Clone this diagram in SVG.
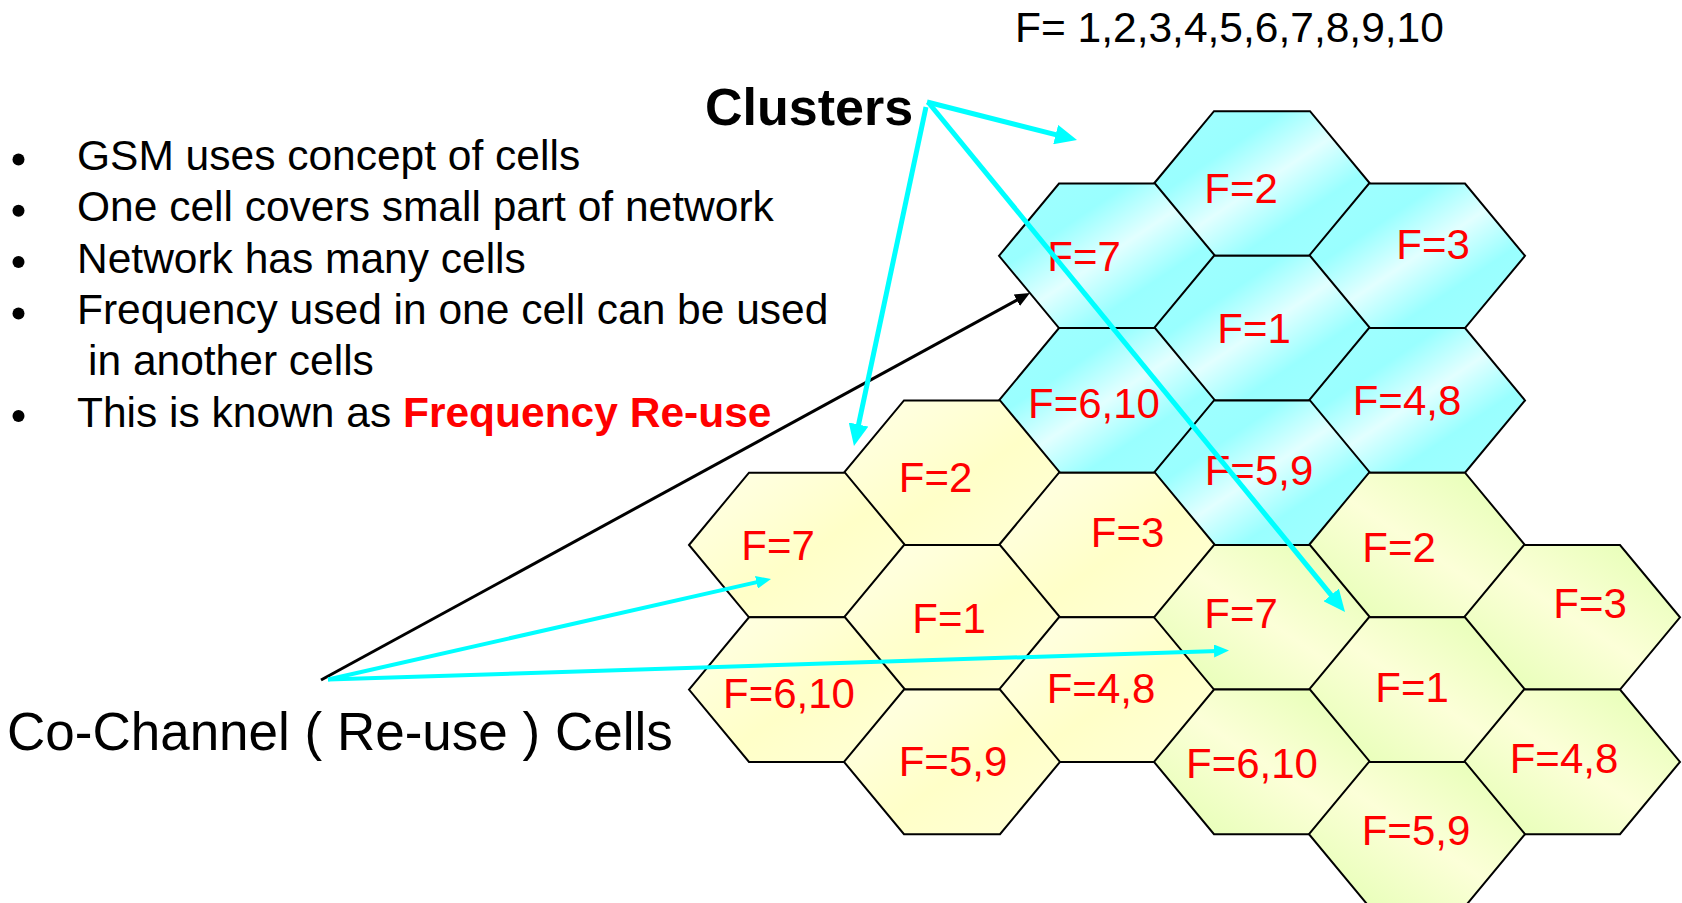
<svg xmlns="http://www.w3.org/2000/svg" width="1682" height="903" viewBox="0 0 1682 903">
<defs>
<linearGradient id="gBlue" x1="0" y1="0" x2="1" y2="1">
<stop offset="0" stop-color="#a3ffff"/>
<stop offset="0.3" stop-color="#99ffff"/>
<stop offset="0.5" stop-color="#e2ffff"/>
<stop offset="0.7" stop-color="#99ffff"/>
<stop offset="1" stop-color="#a3ffff"/>
</linearGradient>
<linearGradient id="gYellow" x1="0" y1="0" x2="1" y2="1">
<stop offset="0" stop-color="#ffffe8"/>
<stop offset="0.55" stop-color="#ffffc8"/>
<stop offset="1" stop-color="#ffffd6"/>
</linearGradient>
<linearGradient id="gGreen" x1="1" y1="0" x2="0" y2="1">
<stop offset="0" stop-color="#e2ffb0"/>
<stop offset="0.5" stop-color="#fcffd8"/>
<stop offset="1" stop-color="#e2ffb0"/>
</linearGradient>
<marker id="mCyanBig" markerUnits="userSpaceOnUse" markerWidth="22" markerHeight="20" refX="6" refY="10" orient="auto" viewBox="0 0 22 20">
<path d="M0,0 L22,10 L0,20 z" fill="#00ffff"/>
</marker>
<marker id="mCyan" markerUnits="userSpaceOnUse" markerWidth="15" markerHeight="13" refX="4" refY="6.5" orient="auto" viewBox="0 0 15 13">
<path d="M0,0 L15,6.5 L0,13 z" fill="#00ffff"/>
</marker>
<marker id="mBlack" markerUnits="userSpaceOnUse" markerWidth="15" markerHeight="13" refX="4" refY="6.5" orient="auto" viewBox="0 0 15 13">
<path d="M0,0 L15,6.5 L0,13 z" fill="#000000"/>
</marker>
</defs>
<style>
.hex { stroke:#000; stroke-width:2; stroke-linejoin:miter; }
.blue { fill:url(#gBlue); }
.yellow { fill:url(#gYellow); }
.green { fill:url(#gGreen); }
.lbl { font-family:"Liberation Sans", Arial, sans-serif; font-size:42px; fill:#ff0000; text-anchor:middle; }
.body { font-family:"Liberation Sans", Arial, sans-serif; font-size:42.5px; fill:#000; }
.red { fill:#ff0000; font-weight:bold; }
.dot { fill:#000; }
.cbig { stroke:#00ffff; stroke-width:5; fill:none; marker-end:url(#mCyanBig); }
.csmall { stroke:#00ffff; stroke-width:4; fill:none; marker-end:url(#mCyan); }
.black { stroke:#000; stroke-width:3; fill:none; marker-end:url(#mBlack); }
</style>
<rect width="1682" height="903" fill="#ffffff"/>

<g id="title">
<text class="body" x="1015" y="41.5">F= 1,2,3,4,5,6,7,8,9,10</text>
</g>

<g id="bullets">
<circle class="dot" cx="18.5" cy="159.5" r="6"/>
<circle class="dot" cx="18.5" cy="210.8" r="6"/>
<circle class="dot" cx="18.5" cy="262.1" r="6"/>
<circle class="dot" cx="18.5" cy="313.4" r="6"/>
<circle class="dot" cx="18.5" cy="416" r="6"/>
<text class="body" x="77" y="170">GSM uses concept of cells</text>
<text class="body" x="77" y="221.3">One cell covers small part of network</text>
<text class="body" x="77" y="272.6">Network has many cells</text>
<text class="body" x="77" y="323.9">Frequency used in one cell can be used</text>
<text class="body" x="88" y="375.2">in another cells</text>
<text class="body" x="77" y="426.5">This is known as <tspan class="red">Frequency Re-use</tspan></text>
</g>

<g id="clusters-label">
<text x="705" y="125" style="font-family:'Liberation Sans', Arial, sans-serif; font-size:52px; font-weight:bold; fill:#000">Clusters</text>
</g>

<g id="cochannel-label">
<text x="7" y="750" style="font-family:'Liberation Sans', Arial, sans-serif; font-size:53px; fill:#000">Co-Channel ( Re-use ) Cells</text>
</g>

<!-- Blue cluster -->
<g id="blue-f2" transform="translate(1262,183.5)"><polygon class="hex blue" points="-108,0 -48,-72.3 48,-72.3 108,0 48,72.3 -48,72.3"/><text class="lbl" x="-21" y="19.5">F=2</text></g>
<g id="blue-f7" transform="translate(1107,255.8)"><polygon class="hex blue" points="-108,0 -48,-72.3 48,-72.3 108,0 48,72.3 -48,72.3"/><text class="lbl" x="-23" y="15.2">F=7</text></g>
<g id="blue-f3" transform="translate(1417,255.8)"><polygon class="hex blue" points="-108,0 -48,-72.3 48,-72.3 108,0 48,72.3 -48,72.3"/><text class="lbl" x="16" y="3.2">F=3</text></g>
<g id="blue-f1" transform="translate(1262,328.1)"><polygon class="hex blue" points="-108,0 -48,-72.3 48,-72.3 108,0 48,72.3 -48,72.3"/><text class="lbl" x="-8" y="15">F=1</text></g>
<g id="blue-f6-10" transform="translate(1107,400.4)"><polygon class="hex blue" points="-108,0 -48,-72.3 48,-72.3 108,0 48,72.3 -48,72.3"/><text class="lbl" x="-13" y="17.6">F=6,10</text></g>
<g id="blue-f4-8" transform="translate(1417,400.4)"><polygon class="hex blue" points="-108,0 -48,-72.3 48,-72.3 108,0 48,72.3 -48,72.3"/><text class="lbl" x="-10" y="14.6">F=4,8</text></g>
<g id="blue-f5-9" transform="translate(1262,472.7)"><polygon class="hex blue" points="-108,0 -48,-72.3 48,-72.3 108,0 48,72.3 -48,72.3"/><text class="lbl" x="-3" y="12.3">F=5,9</text></g>

<!-- Yellow cluster -->
<g id="yellow-f2" transform="translate(952,472.7)"><polygon class="hex yellow" points="-108,0 -48,-72.3 48,-72.3 108,0 48,72.3 -48,72.3"/><text class="lbl" x="-16.5" y="19.3">F=2</text></g>
<g id="yellow-f7" transform="translate(797,545)"><polygon class="hex yellow" points="-108,0 -48,-72.3 48,-72.3 108,0 48,72.3 -48,72.3"/><text class="lbl" x="-19" y="15">F=7</text></g>
<g id="yellow-f3" transform="translate(1107,545)"><polygon class="hex yellow" points="-108,0 -48,-72.3 48,-72.3 108,0 48,72.3 -48,72.3"/><text class="lbl" x="20.5" y="2">F=3</text></g>
<g id="yellow-f1" transform="translate(952,617.3)"><polygon class="hex yellow" points="-108,0 -48,-72.3 48,-72.3 108,0 48,72.3 -48,72.3"/><text class="lbl" x="-3" y="15.7">F=1</text></g>
<g id="yellow-f6-10" transform="translate(797,689.6)"><polygon class="hex yellow" points="-108,0 -48,-72.3 48,-72.3 108,0 48,72.3 -48,72.3"/><text class="lbl" x="-8" y="18.4">F=6,10</text></g>
<g id="yellow-f4-8" transform="translate(1107,689.6)"><polygon class="hex yellow" points="-108,0 -48,-72.3 48,-72.3 108,0 48,72.3 -48,72.3"/><text class="lbl" x="-6" y="13.4">F=4,8</text></g>
<g id="yellow-f5-9" transform="translate(952,761.9)"><polygon class="hex yellow" points="-108,0 -48,-72.3 48,-72.3 108,0 48,72.3 -48,72.3"/><text class="lbl" x="1" y="14">F=5,9</text></g>

<!-- Green cluster -->
<g id="green-f2" transform="translate(1417,545)"><polygon class="hex green" points="-108,0 -48,-72.3 48,-72.3 108,0 48,72.3 -48,72.3"/><text class="lbl" x="-18" y="17">F=2</text></g>
<g id="green-f7" transform="translate(1262,617.3)"><polygon class="hex green" points="-108,0 -48,-72.3 48,-72.3 108,0 48,72.3 -48,72.3"/><text class="lbl" x="-21" y="10.7">F=7</text></g>
<g id="green-f3" transform="translate(1572,617.3)"><polygon class="hex green" points="-108,0 -48,-72.3 48,-72.3 108,0 48,72.3 -48,72.3"/><text class="lbl" x="18" y="0.7">F=3</text></g>
<g id="green-f1" transform="translate(1417,689.6)"><polygon class="hex green" points="-108,0 -48,-72.3 48,-72.3 108,0 48,72.3 -48,72.3"/><text class="lbl" x="-5" y="12.4">F=1</text></g>
<g id="green-f6-10" transform="translate(1262,761.9)"><polygon class="hex green" points="-108,0 -48,-72.3 48,-72.3 108,0 48,72.3 -48,72.3"/><text class="lbl" x="-10" y="16">F=6,10</text></g>
<g id="green-f4-8" transform="translate(1572,761.9)"><polygon class="hex green" points="-108,0 -48,-72.3 48,-72.3 108,0 48,72.3 -48,72.3"/><text class="lbl" x="-8" y="11">F=4,8</text></g>
<g id="green-f5-9" transform="translate(1417,834.2)"><polygon class="hex green" points="-108,0 -48,-72.3 48,-72.3 108,0 48,72.3 -48,72.3"/><text class="lbl" x="-1" y="10.8">F=5,9</text></g>

<g id="connectors">
<line class="black" x1="321" y1="680" x2="1020.3" y2="298.3"/>
<line class="csmall" x1="328" y1="679.5" x2="760.3" y2="581.4"/>
<line class="csmall" x1="328" y1="679.5" x2="1218" y2="650.9"/>
<line class="cbig" x1="927" y1="102" x2="1061.5" y2="136.1"/>
<line class="cbig" x1="926" y1="107" x2="857.3" y2="430.4"/>
<line class="cbig" x1="928" y1="102" x2="1334.9" y2="599.6"/>
</g>
</svg>
